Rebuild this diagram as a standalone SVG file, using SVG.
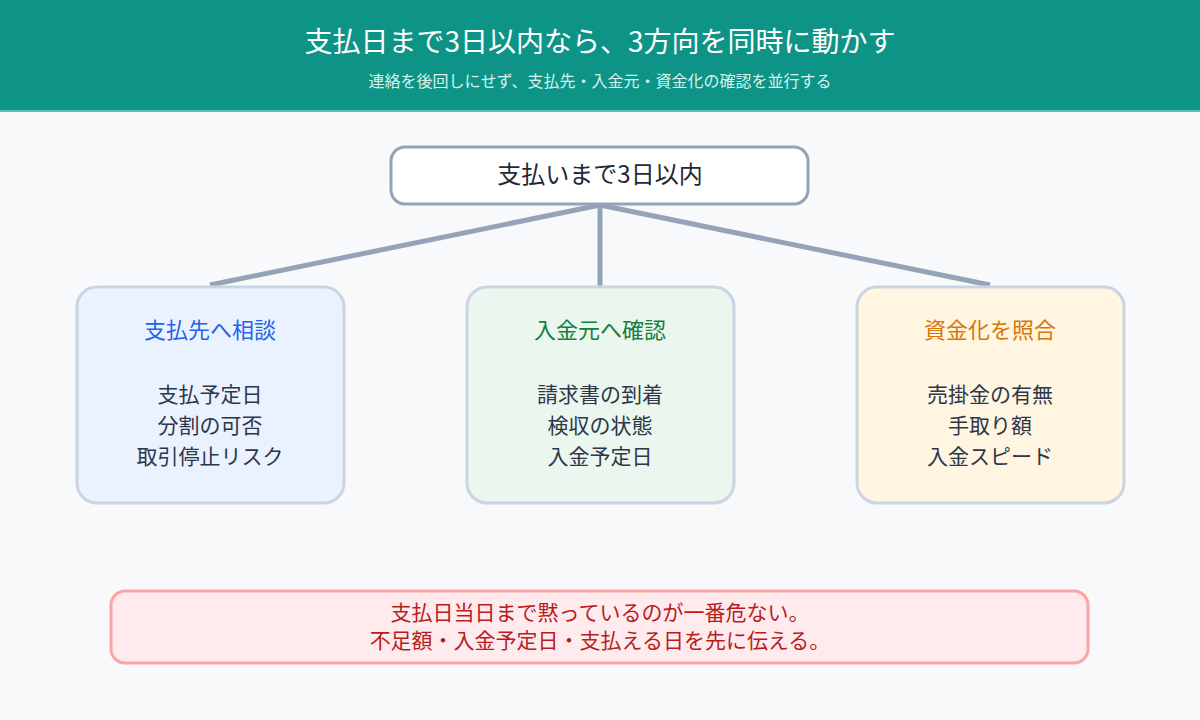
<svg xmlns="http://www.w3.org/2000/svg" width="1200" height="720" viewBox="0 0 1200 720">
<style>
text{font-family:"Noto Sans CJK JP","Noto Sans",sans-serif;text-anchor:middle;dominant-baseline:central}
.title{font-size:28px;fill:#ffffff}
.sub{font-size:16px;fill:#D6F2EE}
.root{font-size:24px;fill:#1F2937}
.head{font-size:22px}
.body{font-size:21px;fill:#2D3748}
.warn{font-size:21px;fill:#B91C1C}
.card{stroke:#CBD5E1;stroke-width:3}
.conn{stroke:#94A3B8;stroke-width:5;fill:none}
</style>
<rect x="0" y="0" width="1200" height="720" fill="#F7F9FB"/>
<g id="header">
<rect x="0" y="0" width="1200" height="112" fill="#0E9486"/>
<rect x="0" y="110" width="1200" height="2" fill="#5CC2B6"/>
<text class="title" x="600" y="40">支払日まで3日以内なら、3方向を同時に動かす</text>
<text class="sub" x="600" y="80">連絡を後回しにせず、支払先・入金元・資金化の確認を並行する</text>
</g>
<g id="connectors">
<line class="conn" x1="600" y1="205" x2="210" y2="285"/>
<line class="conn" x1="600" y1="205" x2="600" y2="286"/>
<line class="conn" x1="600" y1="205" x2="990" y2="285"/>
</g>
<g id="root">
<rect x="391" y="147" width="417" height="57" rx="14" fill="#ffffff" stroke="#94A3B8" stroke-width="3"/>
<text class="root" x="600" y="172">支払いまで3日以内</text>
</g>
<g id="supplier">
<rect class="card" x="77" y="287" width="267" height="216" rx="20" fill="#EAF2FF"/>
<text class="head" x="210" y="328" fill="#2563EB">支払先へ相談</text>
<text class="body" x="210" y="393">支払予定日</text>
<text class="body" x="210" y="424">分割の可否</text>
<text class="body" x="210" y="455">取引停止リスク</text>
</g>
<g id="payer">
<rect class="card" x="467" y="287" width="267" height="216" rx="20" fill="#EAF6EE"/>
<text class="head" x="600" y="328" fill="#15803D">入金元へ確認</text>
<text class="body" x="600" y="393">請求書の到着</text>
<text class="body" x="600" y="424">検収の状態</text>
<text class="body" x="600" y="455">入金予定日</text>
</g>
<g id="funding">
<rect class="card" x="857" y="287" width="267" height="216" rx="20" fill="#FFF5E0"/>
<text class="head" x="990" y="328" fill="#D97706">資金化を照合</text>
<text class="body" x="990" y="393">売掛金の有無</text>
<text class="body" x="990" y="424">手取り額</text>
<text class="body" x="990" y="455">入金スピード</text>
</g>
<g id="warning">
<rect x="111" y="591" width="977" height="72" rx="14" fill="#FFEBEE" stroke="#FCA5A5" stroke-width="3"/>
<text class="warn" x="600" y="611">支払日当日まで黙っているのが一番危ない。</text>
<text class="warn" x="600" y="639">不足額・入金予定日・支払える日を先に伝える。</text>
</g>
</svg>
